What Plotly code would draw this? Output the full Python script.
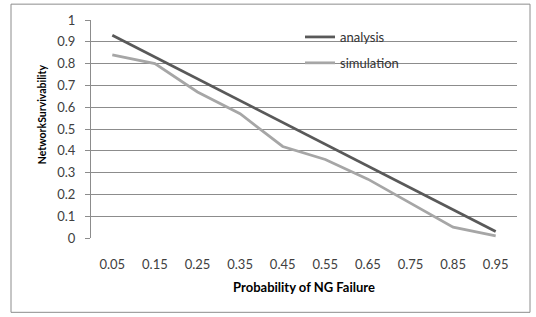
import plotly.graph_objects as go

categories = ["0.05", "0.15", "0.25", "0.35", "0.45", "0.55", "0.65", "0.75", "0.85", "0.95"]
analysis = [0.93, 0.83, 0.73, 0.63, 0.53, 0.43, 0.33, 0.23, 0.13, 0.03]
simulation = [0.84, 0.80, 0.67, 0.57, 0.42, 0.36, 0.27, 0.16, 0.05, 0.01]
y_ticks = [0, 0.1, 0.2, 0.3, 0.4, 0.5, 0.6, 0.7, 0.8, 0.9, 1]
y_tick_text = ["0", "0.1", "0.2", "0.3", "0.4", "0.5", "0.6", "0.7", "0.8", "0.9", "1"]

FONT = "Lato, Open Sans, sans-serif"

fig = go.Figure()
fig.add_trace(go.Scatter(x=categories, y=analysis, mode="lines", name="analysis",
                         line=dict(color="#595959", width=2.75), legendgroup="a"))
fig.add_trace(go.Scatter(x=categories, y=simulation, mode="lines", name="simulation",
                         line=dict(color="#A6A6A6", width=2.75), legendgroup="b"))

L, R, T, B = 91, 19, 18, 79
W, H = 536, 317
pw, ph = W - L - R, H - T - B

def px(xp):
    return (xp - L) / pw

def py(yp):
    return (H - B - yp) / ph

fig.update_layout(
    width=W, height=H,
    margin=dict(l=L, r=R, t=T, b=B),
    paper_bgcolor="white", plot_bgcolor="white",
    font=dict(family=FONT, size=13, color="#000000"),
    showlegend=True,
    legend=dict(x=px(300), y=py(20), xanchor="left", yanchor="top",
                bgcolor="rgba(0,0,0,0)", font=dict(size=13, color="#333"),
                tracegroupgap=6, itemwidth=30),
    xaxis=dict(type="category", showgrid=False, showline=False, zeroline=False,
               ticks="outside", ticklen=14, tickcolor="rgba(0,0,0,0)",
               tickfont=dict(size=13, color="#404040"),
               title=dict(text="<b>Probability of NG Failure</b>", font=dict(size=13), standoff=12),
               range=[-0.5, 9.5]),
    yaxis=dict(range=[0, 1], tickvals=y_ticks, ticktext=y_tick_text,
               showgrid=True, gridcolor="#8C8C8C", gridwidth=1,
               showline=True, linecolor="#8C8C8C", linewidth=1,
               zeroline=False, ticks="outside", ticklen=5, tickcolor="#8C8C8C",
               ticklabelstandoff=7,
               tickfont=dict(size=13, color="#404040")),
    annotations=[dict(text="<b>NetworkSurvivability</b>", xref="paper", yref="paper",
                      x=px(42), y=py(113), xanchor="center", yanchor="middle",
                      textangle=-90, showarrow=False, font=dict(size=10.5, color="#000"))],
    shapes=[dict(type="rect", xref="paper", yref="paper",
                 x0=px(11), x1=px(530), y0=py(313), y1=py(2),
                 line=dict(color="#8C8C8C", width=1), fillcolor="rgba(0,0,0,0)", layer="above")],
)

fig.write_html("out.html", config={"displayModeBar": False},
               post_script="document.body.style.margin='0px';")
